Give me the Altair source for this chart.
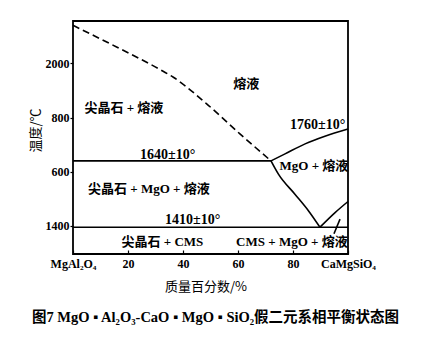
import altair as alt
import pandas as pd

# ---- data ----
dash_x = [0, 13.5, 24.4, 31.6, 36.5, 48.6, 60.7, 72.0]
dash_t = [2141, 2073, 2017, 1978, 1949, 1851, 1740, 1640]

mgo_x = [72.0, 77.1, 84.4, 91.6, 100]
mgo_t = [1640, 1666, 1703, 1731, 1758]

left_x = [72.0, 74.7, 80.7, 85.6, 89.8]
left_t = [1640, 1591, 1517, 1456, 1395]

cms_x = [89.8, 95.3, 100]
cms_t = [1395, 1449, 1490]

h1640_x = [0, 72.0]
h1640_t = [1640, 1640]

h1410_x = [0, 100]
h1410_t = [1395, 1395]

leader_x = [97.1, 94.9]
leader_t = [1425, 1371]

label_text = ["熔液", "尖晶石 + 熔液", "尖晶石 + MgO + 熔液", "尖晶石 + CMS",
              "CMS + MgO + 熔液", "MgO + 熔液"]
label_x = [63, 18.5, 27.6, 32.5, 79.6, 87.6]
label_t = [1925, 1837, 1537, 1341, 1341, 1622]

num_text = ["1640±10°", "1760±10°", "1410±10°"]
num_x = [34.4, 89.0, 43.5]
num_t = [1663, 1774, 1422]

y_tick_vals = [1400, 1600, 1800, 2000]
y_tick_text = ["1400", "600", "800", "2000"]
x_tick_vals = [0, 20, 40, 60, 80, 100]
x_tick_text = ["MgAl₂O₄", "20", "40", "60", "80", "CaMgSiO₄"]

x_title = "质量百分数/%"
y_title = "温度/℃"
caption = "图7 MgO ▪ Al₂O₃-CaO ▪ MgO ▪ SiO₂假二元系相平衡状态图"

# ---- tables ----
solid_rows = []
for name, xs_, ts_ in [("mgo", mgo_x, mgo_t), ("left", left_x, left_t),
                       ("cms", cms_x, cms_t), ("h1640", h1640_x, h1640_t),
                       ("h1410", h1410_x, h1410_t), ("leader", leader_x, leader_t)]:
    for i, (a, b) in enumerate(zip(xs_, ts_)):
        solid_rows.append({"series": name, "x": a, "t": b, "o": i})
solid_df = pd.DataFrame(solid_rows)
dash_df = pd.DataFrame({"x": dash_x, "t": dash_t, "o": list(range(len(dash_x)))})
lab_df = pd.DataFrame({"text": label_text, "x": label_x, "t": label_t})
num_df = pd.DataFrame({"text": num_text, "x": num_x, "t": num_t})


def label_expr(vals, texts):
    parts = [f"datum.value == {v} ? '{t}'" for v, t in zip(vals, texts)]
    return " : ".join(parts) + " : ''"


SERIF = "Liberation Serif, DejaVu Serif, Noto Sans CJK SC"
SANS = "Noto Sans CJK SC"

xs = alt.Scale(domain=[0, 100], nice=False, zero=False)
ys = alt.Scale(domain=[1296, 2157], nice=False, zero=False)

x_enc = alt.X("x:Q", scale=xs, axis=alt.Axis(
    values=x_tick_vals, labelExpr=label_expr(x_tick_vals, x_tick_text),
    grid=False, domain=False, offset=-4, tickSize=4, tickColor="black",
    tickWidth=1.2, labelPadding=4, labelFont=SERIF, labelFontSize=12,
    labelFontWeight="bold", labelColor="black", title=x_title,
    titleFont=SANS, titleFontSize=13, titleFontWeight="normal",
    titleColor="black", titleX=132.5, titleY=36, titleBaseline="middle",
    titleAnchor="start", titleAlign="center", labelFlush=False))
y_enc = alt.Y("t:Q", scale=ys, axis=alt.Axis(
    values=y_tick_vals, labelExpr=label_expr(y_tick_vals, y_tick_text),
    grid=False, domain=False, tickSize=3, tickColor="black", tickWidth=1.2,
    labelPadding=1, labelFont=SERIF, labelFontSize=12, labelFontWeight="bold",
    labelColor="black", title=y_title, titleFont=SANS, titleFontSize=13,
    titleFontWeight="normal", titleColor="black", titleX=-38, titleY=109,
    titleAngle=-90, titleBaseline="middle", titleAlign="center"))

solid = alt.Chart(solid_df).mark_line(
    color="black", strokeWidth=1.6, interpolate="monotone"
).encode(x=x_enc, y=y_enc, detail="series:N", order="o:Q")

dashed = alt.Chart(dash_df).mark_line(
    color="black", strokeWidth=1.6, strokeDash=[7, 4], interpolate="monotone"
).encode(x=alt.X("x:Q", scale=xs), y=alt.Y("t:Q", scale=ys), order="o:Q")

labels = alt.Chart(lab_df).mark_text(
    font=SERIF, fontSize=13, fontWeight="bold", color="black",
    align="center", baseline="middle"
).encode(x=alt.X("x:Q", scale=xs), y=alt.Y("t:Q", scale=ys), text="text:N")

nums = alt.Chart(num_df).mark_text(
    font=SERIF, fontSize=14, fontWeight="bold", color="black",
    align="center", baseline="middle"
).encode(x=alt.X("x:Q", scale=xs), y=alt.Y("t:Q", scale=ys), text="text:N")

chart = alt.layer(solid, dashed, labels, nums).properties(
    width=275, height=233,
    padding={"left": 73, "top": 21, "right": 81, "bottom": 100},
    autosize=alt.AutoSizeParams(type="none"),
    title=alt.TitleParams(text=caption, orient="bottom", anchor="middle",
                          font=SERIF, fontSize=14.5, fontWeight="bold",
                          color="black", offset=18, dx=5),
    background="white",
).configure_view(stroke="black", strokeWidth=1.8)

chart.save("out.html", embed_options={"renderer": "svg", "actions": False})
